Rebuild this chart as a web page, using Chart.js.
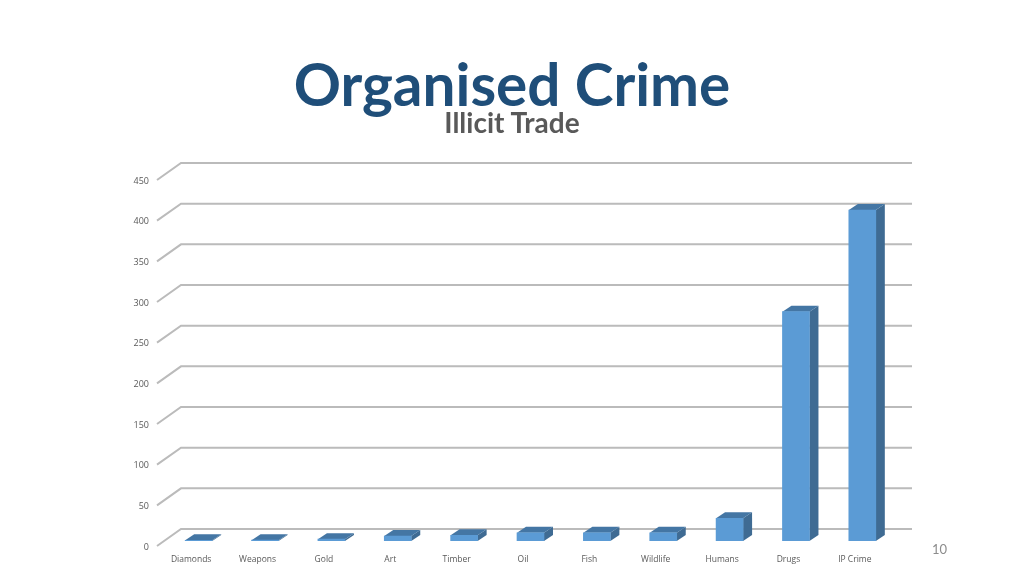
<!DOCTYPE html>
<html>
<head>
<meta charset="utf-8">
<title>Organised Crime</title>
<script src="https://cdn.jsdelivr.net/npm/chart.js@4/dist/chart.umd.min.js"></script>
<style>
  html, body { margin: 0; padding: 0; background: #fff; }
  body { width: 1024px; height: 576px; overflow: hidden; position: relative; font-family: Lato, sans-serif; }
  canvas { position: absolute; left: 0; top: 0; }
  .title { position: absolute; left: 0; width: 1024px; text-align: center; white-space: nowrap; font-weight: bold; }
  #main { left: 0; top: 50px; font-size: 58.5px; line-height: 66px; color: #1f4e79; }
  #sub { left: 0; top: 105px; font-size: 28px; line-height: 34px; color: #595959; }
  #page { position: absolute; left: 932px; top: 541px; font-size: 13px; line-height: 16px; color: #8c8c8c; }
</style>
</head>
<body>
<canvas id="chart" width="1024" height="576"></canvas>
<div class="title" id="main">Organised Crime</div>
<div class="title" id="sub">Illicit Trade</div>
<div id="page">10</div>
<script>
const categories = ["Diamonds", "Weapons", "Gold", "Art", "Timber", "Oil", "Fish", "Wildlife", "Humans", "Drugs", "IP Crime"];
const values = [0.9, 1, 2.3, 6, 7, 10, 10, 10, 28, 282, 407];
const yTicks = [0, 50, 100, 150, 200, 250, 300, 350, 400, 450];

// fake 3D: floor depth of the back wall and of the bars
const wallDx = 24, wallDy = 17;
const barShiftX = 8.5, barShiftY = 5;
const barDx = 9, barDy = 6;

const threeD = {
  id: "threeD",
  beforeDatasetsDraw(chart) {
    const { ctx, scales: { x, y } } = chart;
    ctx.save();
    ctx.strokeStyle = "#bbbbbb";
    ctx.lineWidth = 2;
    yTicks.forEach(t => {
      const py = y.getPixelForValue(t);
      ctx.beginPath();
      ctx.moveTo(x.left, py);
      ctx.lineTo(x.left + wallDx, py - wallDy);
      ctx.lineTo(x.right + wallDx + 1, py - wallDy);
      ctx.stroke();
    });
    ctx.restore();
    // bars stand a little way back from the front edge
    ctx.save();
    ctx.translate(barShiftX, -barShiftY);
    chart.getDatasetMeta(0).data.forEach(bar => {
      const l = bar.x - bar.width / 2, r = bar.x + bar.width / 2;
      ctx.fillStyle = "#3f6b93";
      ctx.beginPath();
      ctx.moveTo(r, bar.y);
      ctx.lineTo(r + barDx, bar.y - barDy);
      ctx.lineTo(r + barDx, bar.base - barDy);
      ctx.lineTo(r, bar.base);
      ctx.closePath();
      ctx.fill();
      ctx.fillStyle = "#4476a4";
      ctx.beginPath();
      ctx.moveTo(l, bar.y);
      ctx.lineTo(l + barDx, bar.y - barDy);
      ctx.lineTo(r + barDx, bar.y - barDy);
      ctx.lineTo(r, bar.y);
      ctx.closePath();
      ctx.fill();
    });
  },
  afterDatasetsDraw(chart) {
    chart.ctx.restore();
  }
};

new Chart(document.getElementById("chart"), {
  type: "bar",
  data: {
    labels: categories,
    datasets: [{ data: values, backgroundColor: "#5b9bd5", borderWidth: 0, barThickness: 27 }]
  },
  options: {
    responsive: false,
    animation: false,
    layout: { padding: { left: 0, right: 137, top: 180, bottom: 0 } },
    plugins: { legend: { display: false }, title: { display: false }, tooltip: { enabled: false } },
    scales: {
      x: {
        grid: { display: false },
        border: { display: false },
        afterFit(scale) { scale.height = 30; },
        ticks: { color: "#595959", font: { family: "Open Sans", size: 8.5 }, padding: 0, labelOffset: 1, maxRotation: 0, autoSkip: false }
      },
      y: {
        min: 0,
        max: 450,
        grid: { display: false },
        border: { display: false },
        afterFit(scale) { scale.width = 157; },
        afterBuildTicks(scale) { scale.ticks = yTicks.map(v => ({ value: v })); },
        ticks: { color: "#595959", font: { family: "Open Sans", size: 9 }, padding: 0, labelOffset: 1 }
      }
    }
  },
  plugins: [threeD]
});
</script>
</body>
</html>
